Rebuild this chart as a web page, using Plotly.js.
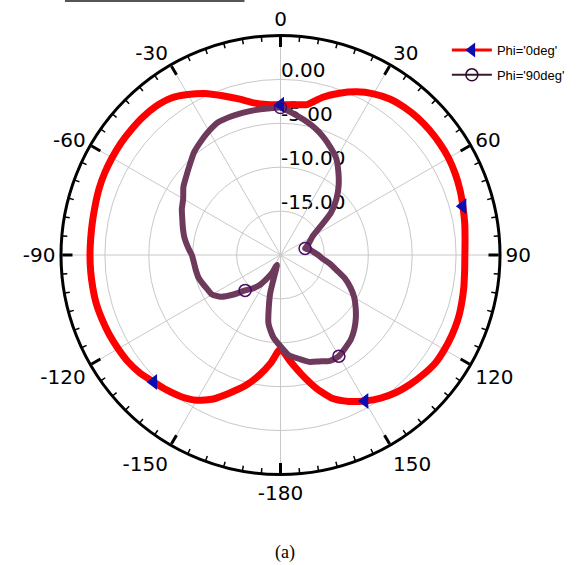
<!DOCTYPE html>
<html><head><meta charset="utf-8">
<script src="https://cdn.plot.ly/plotly-3.0.1.min.js"></script>
<style>html,body{margin:0;padding:0;background:#fff;} #chart{width:581px;height:565px;}</style>
</head><body><div id="chart"></div>
<script>
const angles = [-180,-175,-170,-165,-160,-155,-150,-145,-140,-135,-130,-125,-120,-115,-110,-105,-100,-95,-90,-85,-80,-75,-70,-65,-60,-55,-50,-45,-40,-35,-30,-25,-20,-15,-10,-5,0,5,10,15,20,25,30,35,40,45,50,55,60,65,70,75,80,85,90,95,100,105,110,115,120,125,130,135,140,145,150,155,160,165,170,175,180];
const phi0 = [-9.3,-7.7,-6.1,-4.6,-3.3,-1.9,-0.9,-0.3,0.1,0.45,0.9,1.2,1.35,1.5,1.6,1.7,1.7,1.7,1.7,1.7,1.75,1.85,2.0,2.1,2.15,2.2,2.2,2.2,2.1,1.8,1.1,0.3,-0.7,-1.6,-2.4,-2.8,-2.9,-2.8,-2.6,-1.4,-0.4,0.5,1.2,1.7,1.95,2.1,2.15,2.15,2.1,1.95,1.75,1.5,1.3,1.1,1.0,1.05,1.2,1.35,1.5,1.55,1.55,1.5,1.2,0.85,0.45,-0.1,-0.8,-1.6,-2.6,-4.3,-6.2,-7.9,-9.3];
const phi90 = [-9.6,-10.6,-12.1,-15.4,-18.8,-17.8,-16.9,-15.8,-15.0,-14.3,-13.0,-11.7,-11.0,-10.8,-10.55,-10.3,-10.2,-10.1,-9.9,-9.4,-8.9,-8.5,-8.1,-7.6,-7.2,-6.5,-6.0,-5.4,-4.7,-4.2,-3.7,-3.3,-3.25,-3.25,-3.25,-3.25,-3.2,-3.8,-4.4,-5.0,-5.7,-6.5,-7.3,-8.5,-9.7,-11.0,-12.5,-14.6,-15.8,-16.3,-16.7,-17.1,-16.6,-16.2,-15.7,-15.2,-14.3,-13.4,-12.2,-11.2,-10.3,-9.55,-8.8,-8.1,-7.5,-7.1,-6.7,-6.7,-7.1,-7.4,-8.0,-8.5,-9.6];
const markerAngles = [0, 75, 150, -135];
const seriesNames = ["Phi='0deg'", "Phi='90deg'"];
const angularTickVals = [0,30,60,90,120,150,180,210,240,270,300,330];
const angularTickText = ['0','30','60','90','120','150','-180','-150','-120','-90','-60','-30'];
const minorTickVals = [0,5,10,15,20,25,30,35,40,45,50,55,60,65,70,75,80,85,90,95,100,105,110,115,120,125,130,135,140,145,150,155,160,165,170,175,180,185,190,195,200,205,210,215,220,225,230,235,240,245,250,255,260,265,270,275,280,285,290,295,300,305,310,315,320,325,330,335,340,345,350,355];
const radialTickVals = [-15, -10, -5, 0];
const radialTickText = ['-15.00', '-10.00', '-5.00', '0.00'];
const radialRange = [-20, 5];

const labelLift = 1.0;
const radialLabelPos = radialTickVals.map(v => v + labelLift);
const pick = (arr) => markerAngles.map(a => arr[angles.indexOf(a)]);

const RED = '#ff0000', PURPLE = '#6e3a5c', BLUE = '#0c0cb0', CIRC = '#4a0c6a';

const traces = [
  {type:'scatterpolar', subplot:'polar', r:[null], theta:[null], mode:'lines+markers', name:seriesNames[0], legendgroup:'a',
   line:{color:RED, width:3}, marker:{symbol:'triangle-left', size:13, color:BLUE}},
  {type:'scatterpolar', subplot:'polar', r:[null], theta:[null], mode:'lines+markers', name:seriesNames[1], legendgroup:'b',
   line:{color:'#3a1a30', width:2}, marker:{symbol:'circle-open', size:12, color:'#2a0a2a', line:{width:1.5}}},
  {type:'scatterpolar', subplot:'polar2', r:phi0, theta:angles, mode:'lines', showlegend:false,
   line:{color:RED, width:7, shape:'spline', smoothing:0.6}, hoverinfo:'skip'},
  {type:'scatterpolar', subplot:'polar2', r:phi90, theta:angles, mode:'lines', showlegend:false,
   line:{color:PURPLE, width:6, shape:'spline', smoothing:0.6}, hoverinfo:'skip'},
  {type:'scatterpolar', subplot:'polar2', r:pick(phi0), theta:markerAngles, mode:'markers', showlegend:false,
   marker:{symbol:'triangle-left', size:14, color:BLUE}},
  {type:'scatterpolar', subplot:'polar2', r:pick(phi90), theta:markerAngles, mode:'markers', showlegend:false,
   marker:{symbol:'circle-open', size:12, color:CIRC, line:{width:1.5}}}
];

const tickFont = {family:'DejaVu Sans, Liberation Sans, Arial', size:20, color:'#000'};
const layout = {
  width:581, height:565,
  margin:{l:61, r:80, t:35, b:90},
  paper_bgcolor:'#fff',
  showlegend:true,
  legend:{x:0.877, y:1.0, xanchor:'left', yanchor:'top', bgcolor:'rgba(0,0,0,0)', traceorder:'grouped',
          font:{family:'Liberation Sans, Arial', size:13, color:'#000'}, tracegroupgap:5, itemwidth:40},
  polar:{
    domain:{x:[0,1], y:[0,1]}, bgcolor:'#fff',
    angularaxis:{rotation:90, direction:'clockwise', tickmode:'array', tickvals:minorTickVals,
      ticks:'inside', ticklen:5, tickwidth:1.5, tickcolor:'#000', showticklabels:false, showgrid:false, showline:false},
    radialaxis:{range:radialRange, angle:90, side:'clockwise', tickangle:90, tickmode:'array', tickvals:radialLabelPos,
      ticktext:radialTickText, ticks:'', showgrid:false, showline:false, tickfont:tickFont}
  },
  polar2:{
    domain:{x:[0,1], y:[0,1]}, bgcolor:'rgba(0,0,0,0)',
    angularaxis:{rotation:90, direction:'clockwise', tickmode:'array', tickvals:angularTickVals, ticktext:angularTickText,
      ticks:'inside', ticklen:10, tickwidth:3, tickcolor:'#000', showline:true, linecolor:'#000', linewidth:3,
      showgrid:true, gridcolor:'#c8c8c8', gridwidth:1, tickfont:tickFont},
    radialaxis:{range:radialRange, angle:90, tickmode:'array', tickvals:radialTickVals, showticklabels:false,
      ticks:'', showline:false, showgrid:true, gridcolor:'#c8c8c8', gridwidth:1}
  },
  shapes:[{type:'line', xref:'paper', yref:'paper', x0:0.009, x1:0.418, y0:1.077, y1:1.077, line:{color:'#555', width:2}}],
  annotations:[{text:'(a)', xref:'paper', yref:'paper', x:0.511, y:-0.177, xanchor:'center', yanchor:'middle',
    showarrow:false, font:{family:'Liberation Serif, Times New Roman', size:18, color:'#000'}}]
};
Plotly.newPlot('chart', traces, layout, {displayModeBar:false, staticPlot:true});
</script></body></html>
